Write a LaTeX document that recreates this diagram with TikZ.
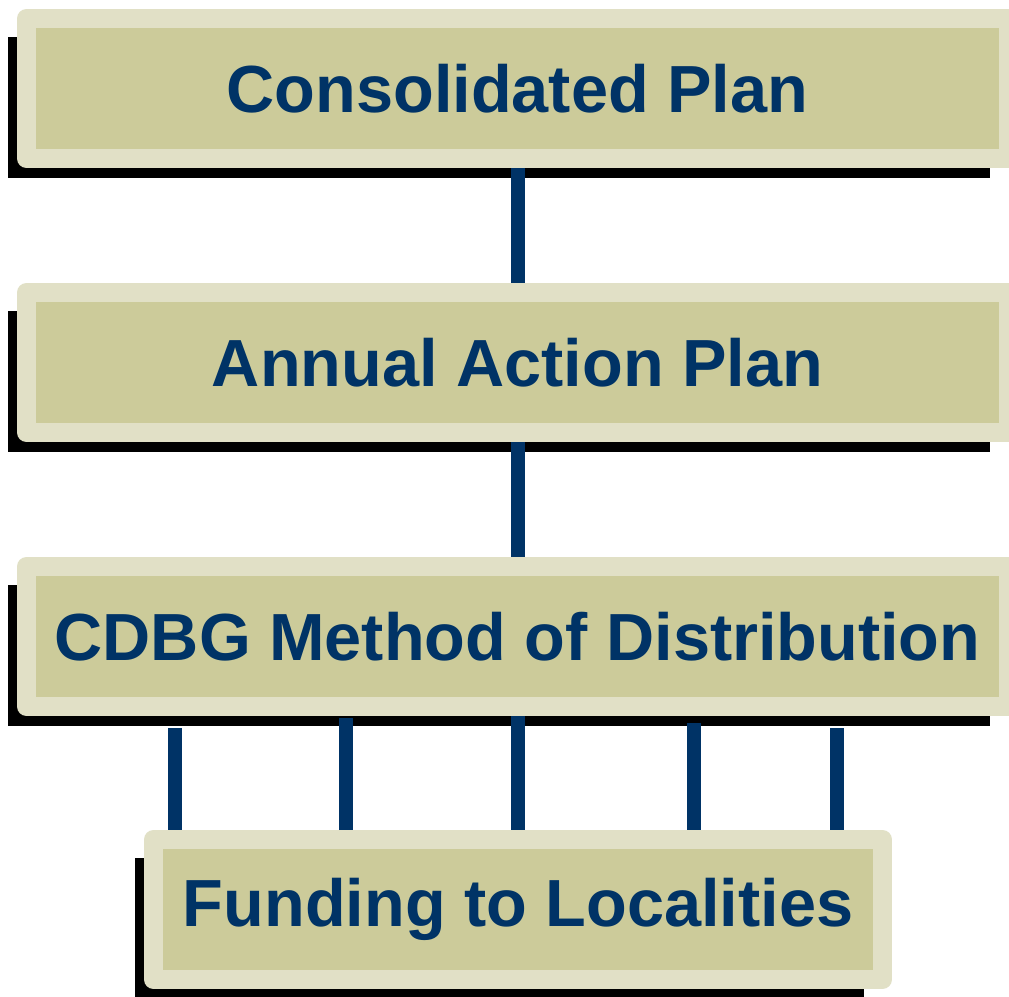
\documentclass[tikz,border=0pt]{standalone}
\usepackage{fontspec}
\setmainfont{Liberation Sans}
\usepackage{tikz}
\usetikzlibrary{backgrounds}
\usetikzlibrary{positioning}

\definecolor{planrim}{HTML}{E1E0C6}
\definecolor{planfill}{HTML}{CCCB9A}
\definecolor{plannavy}{HTML}{003366}

\tikzset{
  planbox/.style={draw=planrim, fill=planfill, line width=14.25pt, line join=round,
    inner sep=0pt, minimum height=105pt,
    font=\fontsize{50}{58}\selectfont\bfseries, text=plannavy},
  planshadow/.style={fill=black},
  planlink/.style={draw=plannavy, line width=10.5pt}
}

\begin{document}
\begin{tikzpicture}[x=0.75pt,y=0.75pt,yscale=-1,xscale=1]
\useasboundingbox (0,0) rectangle (1009,996);

%Boxes
\node [planbox, minimum width=736.5pt] (consol) at (517.5,88.5) {Consolidated Plan};
\node [planbox, minimum width=736.5pt] (annual) at (517.5,362.5) {Annual Action Plan};
\node [planbox, minimum width=736.5pt] (cdbg) at (517.5,636.5) {CDBG Method of Distribution};
\node [planbox, minimum width=546.75pt] (funding) at (518,909.5) {Funding to Localities};

%Shadows
\begin{scope}[on background layer]
\foreach \b in {consol,annual,cdbg,funding}
  \fill [planshadow] ([shift={(-9,28)}]\b.north west) rectangle ([shift={(-28,10)}]\b.south east);
\end{scope}

%Links
\draw [planlink] (consol.south) -- (annual.north);
\draw [planlink] (annual.south) -- (cdbg.north);
\foreach \dx/\dy in {-342.5/12, -171.5/2, 0/0, 176.5/7, 319.5/12}
  \draw [planlink] ([shift={(\dx,\dy)}]cdbg.south) -- ([xshift=\dx*0.75pt]cdbg.south |- funding.north);

\end{tikzpicture}
\end{document}
